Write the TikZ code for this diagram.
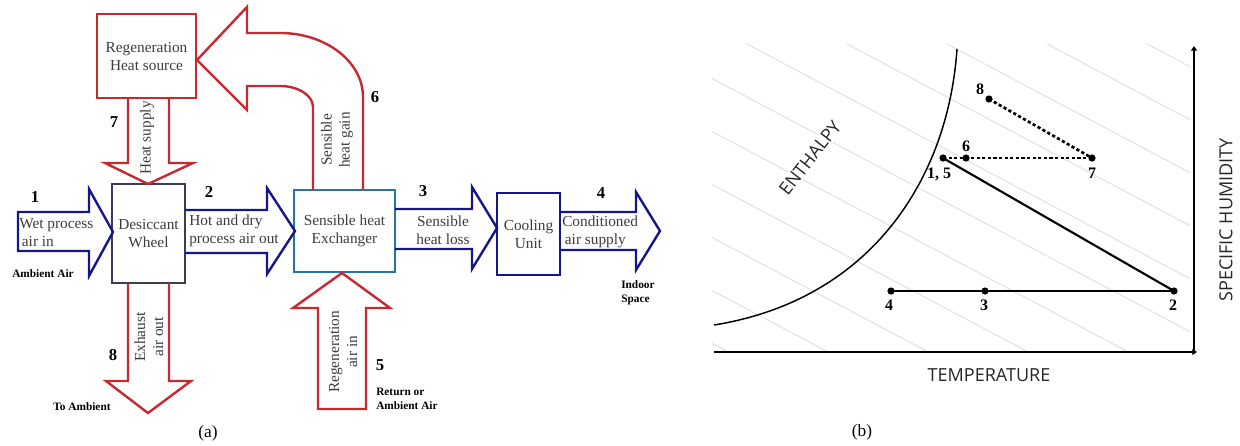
\documentclass[tikz,border=0pt]{standalone}
\usepackage{fontspec}
\setmainfont{Liberation Serif}
\newfontfamily\axisfont{Open Sans}
\usetikzlibrary{arrows.meta}
\definecolor{heatred}{RGB}{200,40,48}
\definecolor{airblue}{RGB}{22,22,140}
\definecolor{wheelgray}{RGB}{60,60,82}
\definecolor{hxteal}{RGB}{38,118,165}
\definecolor{txtgray}{RGB}{60,60,60}
\begin{document}
\begin{tikzpicture}[x=0.75pt,y=-0.75pt,
  box/.style={draw,line width=2.2pt,align=center,inner sep=0pt,text=txtgray,
    font=\fontsize{11.5}{13.5}\selectfont},
  redarrow/.style={draw=heatred,line width=1.8pt,line join=miter},
  bluearrow/.style={draw=airblue,line width=1.8pt,line join=miter},
  flowtext/.style={text=txtgray,font=\fontsize{11.5}{13.5}\selectfont,inner sep=0pt},
  statenum/.style={font=\fontsize{12.5}{14}\selectfont\bfseries,inner sep=0pt},
  place/.style={font=\fontsize{8.5}{10.5}\selectfont\bfseries,inner sep=0pt},
  caption/.style={font=\fontsize{13}{15}\selectfont,inner sep=0pt},
  dot/.style={circle,fill,inner sep=0pt,minimum size=5.4pt},
  ptlabel/.style={font=\fontsize{12}{14}\selectfont\bfseries,inner sep=0pt},
  axislabel/.style={font=\axisfont\fontsize{13.5}{16}\selectfont,text=black!85,inner sep=0pt},
  process/.style={line width=1.6pt},
  dotline/.style={line width=2pt,dash pattern=on 2.4pt off 1.8pt},
  hatch/.style={draw=gray!25,line width=0.7pt},
]
\useasboundingbox (0,0) rectangle (1240,446);

% ---------------- (a) desiccant cooling system ----------------
% components
\node[box,draw=heatred,minimum width=74.25pt,minimum height=63pt] (regen) at (146.5,56)
  {Regeneration\\Heat source};
\node[box,draw=wheelgray,minimum width=54.75pt,minimum height=74.25pt] (wheel) at (148.5,233.5)
  {Desiccant\\Wheel};
\node[box,draw=hxteal,minimum width=75.75pt,minimum height=61.5pt] (shx) at (344.5,231)
  {Sensible heat\\Exchanger};
\node[box,draw=airblue,minimum width=47.25pt,minimum height=61.5pt] (cool) at (528.5,234)
  {Cooling\\Unit};

% process air stream (blue block arrows)
\draw[bluearrow] (18,212) -- (89,212) -- (89,189) -- (113,232) -- (89,276) -- (89,251) -- (18,251) -- cycle;
\draw[bluearrow] (185,210) -- (267,210) -- (267,188) -- (295,231) -- (267,274) -- (267,253) -- (185,253);
\draw[bluearrow] (395,209) -- (472,209) -- (472,187) -- (497,228) -- (472,269) -- (472,249) -- (395,249);
\draw[bluearrow] (560,212) -- (636,212) -- (636,192) -- (660,231) -- (636,270) -- (636,250) -- (560,250);

% regeneration air stream (red block arrows)
\draw[redarrow] (128,98) -- (128,163) -- (105,163) -- (148,184) -- (193,163) -- (169,163) -- (169,98);
\draw[redarrow] (128,283) -- (128,381) -- (106,381) -- (148,413) -- (191,381) -- (169,381) -- (169,283);
\draw[redarrow] (318,409) -- (318,308) -- (293,308) -- (342,273) -- (390,308) -- (366,308) -- (366,409) -- cycle;
\draw[redarrow] (313,190) -- (313,107) .. controls (313,95.4) and (298.2,86) .. (280,86) -- (247,86)
  -- (247,110) -- (197,60) -- (247,7) -- (247,33) -- (280,33)
  .. controls (325.8,33) and (363,61.7) .. (363,97) -- (363,190);

% flow descriptions
\node[flowtext,align=left,anchor=west] (wet) at (19,233) {Wet process\\\hspace*{2pt}air in};
\node[flowtext,align=left,anchor=west] (hot) at (189,231) {Hot and dry\\process air out};
\node[flowtext,align=center] (loss) at (443,230) {Sensible\\heat loss};
\node[flowtext,align=left,anchor=west] (cond) at (562,232) {Conditioned\\\hspace*{2pt}air supply};
\node[flowtext,rotate=90] (supply) at (147,138) {Heat supply};
\node[flowtext,rotate=90,align=center] (exhaust) at (149,337) {Exhaust\\air out};
\node[flowtext,rotate=90,align=center] (regair) at (343,352) {Regeneration\\air in};
\node[flowtext,rotate=90,align=center] (gain) at (337,140) {Sensible\\heat gain};

% state numbers
\node[statenum] (n1) at (35,197) {1};
\node[statenum] (n2) at (209,192) {2};
\node[statenum] (n3) at (423,191) {3};
\node[statenum] (n4) at (601,193) {4};
\node[statenum] (n5) at (380,365) {5};
\node[statenum] (n6) at (375,97) {6};
\node[statenum] (n7) at (114,122) {7};
\node[statenum] (n8) at (113,355) {8};

% sources and sinks
\node[place] (amb) at (43,274) {Ambient Air};
\node[place] (toamb) at (82,407) {To Ambient};
\node[place,align=left,anchor=west] (ret) at (376,399) {Return or\\Ambient Air};
\node[place,align=left,anchor=west] (indoor) at (621,293) {Indoor\\Space};

\node[caption] (capa) at (208,433) {(a)};

% ---------------- (b) psychrometric chart ----------------
% constant-enthalpy lines
\begin{scope}
  \clip (712,44) rectangle (1190,350);
  \foreach \k in {-5,...,6} {
    \draw[hatch] (700,{19.1+53*\k}) -- (1200,{284+53*\k});
  }
\end{scope}

% axes
\coordinate (origin) at (1194,352);
\coordinate (xstart) at (714,352);
\coordinate (xend) at (1197,352);
\coordinate (ytop) at (1194,46);
\draw[line width=1.5pt,-{Triangle[length=3.5pt,width=4.5pt]}] (xstart) -- (xend);
\draw[line width=1.5pt,-{Triangle[length=3.5pt,width=4.5pt]}] (origin) -- (ytop);

% saturation curve
\coordinate (satlow) at (714,325);
\coordinate (sathigh) at (957,49);
\draw[line width=1.1pt] (satlow) .. controls (870,300) and (948,180) .. (sathigh);

\node[axislabel] (tlab) at (989,375) {TEMPERATURE};
\node[axislabel,rotate=90] (wlab) at (1226,220) {SPECIFIC HUMIDITY};
\node[axislabel,rotate=52,fill=white,inner sep=1.5pt] (hlab) at (810,158) {ENTHALPY};

% state points
\node[dot] (p15) at (943,158) {};
\node[dot] (p6) at (966,158) {};
\node[dot] (p7) at (1092,158) {};
\node[dot] (p8) at (989,99) {};
\node[dot] (p2) at (1174,291) {};
\node[dot] (p3) at (985,291) {};
\node[dot] (p4) at (891,291) {};

% processes
\draw[process] (p15.center) -- (p2.center);
\draw[process] (p4.center) -- (p3.center) -- (p2.center);
\draw[dotline] (p15.center) -- (p6.center) -- (p7.center);
\draw[dotline] (p8.center) -- (p7.center);

\node[ptlabel] (l15) at (939,174) {1, 5};
\node[ptlabel] (l6) at (966,146) {6};
\node[ptlabel] (l7) at (1092,173) {7};
\node[ptlabel] (l8) at (980,89) {8};
\node[ptlabel] (l2) at (1173,305) {2};
\node[ptlabel] (l3) at (984,305) {3};
\node[ptlabel] (l4) at (889,305) {4};

\node[caption] (capb) at (862,432) {(b)};
\end{tikzpicture}
\end{document}
